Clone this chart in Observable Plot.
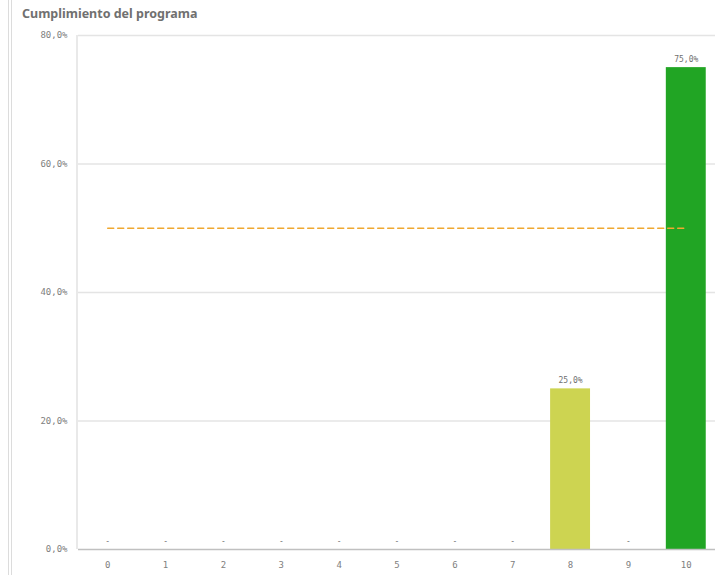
<!DOCTYPE html>
<html>
<head>
<meta charset="utf-8">
<script src="https://cdn.jsdelivr.net/npm/d3@7"></script>
<script src="https://cdn.jsdelivr.net/npm/@observablehq/plot@0.6"></script>
<style>
  html, body { margin: 0; padding: 0; background: #fff; }
  #wrap { position: relative; width: 720px; height: 580px; overflow: hidden; }
  #border { position: absolute; left: 8px; top: 0; width: 2px; height: 575px; border-left: 1px solid #dcdcdc; border-right: 1px solid #dcdcdc; }
  #title { position: absolute; left: 22px; top: 5px; font-family: "Noto Sans", sans-serif; font-weight: bold; font-size: 12.5px; color: #707070; }
  #chart { position: absolute; left: 0; top: 28px; }
</style>
</head>
<body>
<div id="wrap">
  <div id="border"></div>
  <div id="title">Cumplimiento del programa</div>
  <div id="chart"></div>
</div>
<script>
const categories = ["0","1","2","3","4","5","6","7","8","9","10"];
const values = [0, 0, 0, 0, 0, 0, 0, 0, 25, 0, 75];
const barColors = ["#cdd451","#cdd451","#cdd451","#cdd451","#cdd451","#cdd451","#cdd451","#cdd451","#cdd451","#cdd451","#21a524"];
const target = 50;
const yTicks = [0, 20, 40, 60, 80];

const data = categories.map((c, i) => ({cat: c, value: values[i], color: barColors[i]}));
const fmt = v => v === 0 ? "-" : d3.format(".1f")(v).replace(".", ",") + "%";
const tickFmt = v => d3.format(".1f")(v).replace(".", ",") + "%";

const plot = Plot.plot({
  width: 720,
  height: 552,
  marginTop: 7,
  marginBottom: 31,
  marginLeft: 78,
  marginRight: 5,
  style: {fontFamily: "DejaVu Sans Mono, monospace", fontSize: "9px", color: "#808080", background: "transparent"},
  x: {domain: categories, paddingInner: 0.31, paddingOuter: 0.16, round: false, label: null, tickSize: 0, tickPadding: 12},
  y: {domain: [0, 80], ticks: yTicks, tickFormat: tickFmt, label: null, tickSize: 0, tickPadding: 11},
  marks: [
    Plot.ruleY(yTicks.filter(d => d > 0), {stroke: "#e4e4e4", strokeWidth: 1.5}),
    Plot.barY(data, {x: "cat", y: "value", fill: "color"}),
    Plot.lineY([{cat: categories[0], v: target}, {cat: categories[categories.length - 1], v: target}],
      {x: "cat", y: "v", stroke: "#f0a830", strokeWidth: 1.5, strokeDasharray: "6,4"}),
    Plot.text(data, {x: "cat", y: "value", text: d => fmt(d.value), dy: -8, fill: "#707070", fontSize: 8}),
    Plot.ruleY([0], {stroke: "#c0c0c0", strokeWidth: 1.5})
  ]
});

const svg = d3.select(plot);
document.getElementById("chart").appendChild(plot);
svg.append("line").attr("x1", 77).attr("x2", 77).attr("y1", 7).attr("y2", 521)
  .attr("stroke", "#e2e2e2").attr("stroke-width", 1.5);
</script>
</body>
</html>
